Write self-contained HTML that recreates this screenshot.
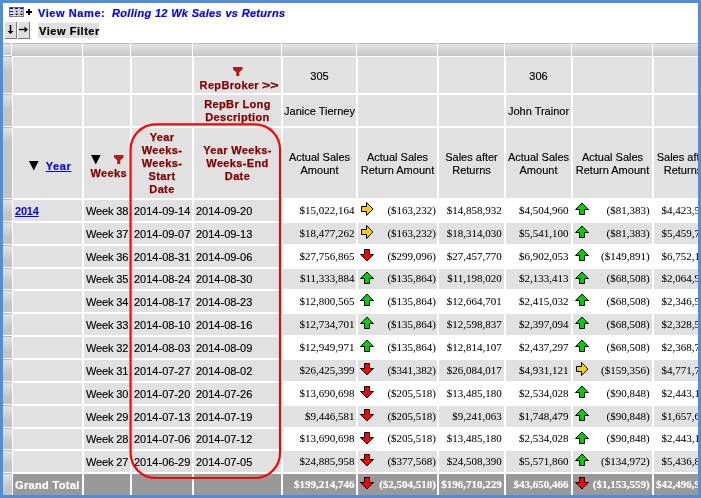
<!DOCTYPE html>
<html><head><meta charset="utf-8"><style>
*{box-sizing:border-box;margin:0;padding:0}
html,body{width:701px;height:498px;overflow:hidden;background:#fff}
body{position:relative;font-family:"Liberation Sans",sans-serif;font-size:11px;color:#000}
#frame{position:absolute;left:0;top:0;width:701px;height:498px;border:3px solid #548dd4;z-index:10;pointer-events:none}
#tbl{position:absolute;left:0;top:0;width:698px;height:495px;overflow:hidden;will-change:transform}
#tbl>div{position:absolute;overflow:hidden}
.hb{background:linear-gradient(#bcbcbc 0,#bcbcbc 1px,#e4e4e4 1px,#c6c6c6 100%)}
.rb{background:linear-gradient(#b8b8b8 0,#b8b8b8 1px,#e2e2e2 1px,#c4c4c4 15px,#c3c3c3 100%)}
.c{background:#e1e1e1;display:flex;align-items:center;line-height:13px;padding-top:2px}
.c.w{background:#fff}
.c.gt{background:#999999}
.c.l{justify-content:flex-start;padding-left:2px}
.c.r{justify-content:flex-end;padding-right:1px}
.c.cc{justify-content:center;text-align:center}
.c.hc{justify-content:center;text-align:center;padding-top:0}
.hl{font-weight:bold;color:#800000;letter-spacing:0.35px;text-align:center;line-height:13px;-webkit-text-stroke:0.25px #800000}
.lnk{color:#0000ff;text-decoration:underline}
.b{font-weight:bold;letter-spacing:0.35px;-webkit-text-stroke:0.2px #0000ff}
.n{font-family:"Liberation Serif",serif;font-size:11px;position:relative;top:-1.5px}
.gb{font-weight:bold;color:#fff}
.gtl{font-weight:bold;color:#fff;letter-spacing:0.35px;-webkit-text-stroke:0.2px #fff}
.ar{position:absolute;left:3px;top:2px}
.abs{position:absolute}
.t{-webkit-text-stroke:0.15px #000}
.n{-webkit-text-stroke:0.04px #000}
.n.gb{-webkit-text-stroke:0.15px #fff}
.tri{display:inline-block;width:0;height:0;border-left:5px solid transparent;border-right:5px solid transparent;border-top:9px solid #000}
.yr{display:flex;align-items:center;padding-left:16px}
.yr .tri{margin-right:7px}
.wk{padding-left:7px}
.wki{display:flex;align-items:flex-start;gap:13px;margin-bottom:4px}
#tb1{position:absolute;left:0;top:0}
.vn{position:absolute;font-weight:bold;color:#0000ff;letter-spacing:0.37px;white-space:nowrap;-webkit-text-stroke:0.2px #0000ff}
.btn{position:absolute;top:22px;width:12px;height:17px;background:#e0e0e0;border-right:1px solid #7a7a7a;border-bottom:1px solid #7a7a7a}
#vf{position:absolute;left:38px;top:23px;width:61px;height:15px;background:#e0e0e0;font-weight:bold;-webkit-text-stroke:0.2px #000;letter-spacing:0.55px;padding-left:1px;padding-top:1px;line-height:15px;white-space:nowrap}
</style></head><body>
<div id="tbl">
<div class="hb" style="left:3px;top:43px;width:8px;height:12px;"></div>
<div class="hb" style="left:12px;top:43px;width:70px;height:13px;"></div>
<div class="hb" style="left:83px;top:43px;width:47px;height:13px;"></div>
<div class="hb" style="left:131px;top:43px;width:61px;height:13px;"></div>
<div class="hb" style="left:193px;top:43px;width:88px;height:13px;"></div>
<div class="hb" style="left:282px;top:43px;width:74px;height:13px;"></div>
<div class="hb" style="left:357px;top:43px;width:80px;height:13px;"></div>
<div class="hb" style="left:438px;top:43px;width:66px;height:13px;"></div>
<div class="hb" style="left:505px;top:43px;width:66px;height:13px;"></div>
<div class="hb" style="left:572px;top:43px;width:80px;height:13px;"></div>
<div class="hb" style="left:653px;top:43px;width:59px;height:13px;"></div>
<div class="rb" style="left:3px;top:56px;width:9px;height:37px;"></div>
<div class="rb" style="left:3px;top:94px;width:9px;height:32px;"></div>
<div class="rb" style="left:3px;top:127px;width:9px;height:71px;"></div>
<div class="rb" style="left:3px;top:199px;width:9px;height:22px;"></div>
<div class="rb" style="left:3px;top:222px;width:9px;height:22px;"></div>
<div class="rb" style="left:3px;top:245px;width:9px;height:22px;"></div>
<div class="rb" style="left:3px;top:268px;width:9px;height:21px;"></div>
<div class="rb" style="left:3px;top:290px;width:9px;height:22px;"></div>
<div class="rb" style="left:3px;top:313px;width:9px;height:22px;"></div>
<div class="rb" style="left:3px;top:336px;width:9px;height:22px;"></div>
<div class="rb" style="left:3px;top:359px;width:9px;height:22px;"></div>
<div class="rb" style="left:3px;top:382px;width:9px;height:22px;"></div>
<div class="rb" style="left:3px;top:405px;width:9px;height:22px;"></div>
<div class="rb" style="left:3px;top:428px;width:9px;height:21px;"></div>
<div class="rb" style="left:3px;top:450px;width:9px;height:22px;"></div>
<div class="rb" style="left:3px;top:473px;width:9px;height:22px;"></div>
<div class="c" style="left:13px;top:57px;width:69px;height:36px;"></div>
<div class="c" style="left:13px;top:95px;width:69px;height:31px;"></div>
<div class="c" style="left:13px;top:128px;width:69px;height:70px;"><svg class="abs" style="left:15.6px;top:33px" width="10" height="10" viewBox="0 0 10 10"><path d="M0 0H9.6L4.8 9.5Z" fill="#000"/></svg><span class="lnk b abs" style="left:32.7px;top:32px;letter-spacing:0.6px">Year</span></div>
<div class="c" style="left:84px;top:57px;width:46px;height:36px;"></div>
<div class="c" style="left:84px;top:95px;width:46px;height:31px;"></div>
<div class="c" style="left:84px;top:128px;width:46px;height:70px;"><svg class="abs" style="left:6.8px;top:26.9px" width="10" height="10" viewBox="0 0 10 10"><path d="M0 0H9.6L4.8 9.5Z" fill="#000"/></svg><svg class="abs" style="left:29.8px;top:27px" width="10" height="9" viewBox="0 0 10 9"><path d="M0 0H9.5V2.6L6.3 5.2V9H3.2V5.2L0 2.6Z" fill="#b01c1c"/></svg><div class="hl abs" style="left:6.5px;top:39px">Weeks</div></div>
<div class="c" style="left:132px;top:57px;width:60px;height:36px;"></div>
<div class="c" style="left:132px;top:95px;width:60px;height:31px;"></div>
<div class="c hc" style="left:132px;top:128px;width:60px;height:70px;"><div class="hl">Year<br>Weeks-<br>Weeks-<br>Start<br>Date</div></div>
<div class="c" style="left:194px;top:57px;width:87px;height:36px;"><svg class="abs" style="left:38.5px;top:10px" width="10" height="9" viewBox="0 0 10 9"><path d="M0 0H9.5V2.6L6.3 5.2V9H3.2V5.2L0 2.6Z" fill="#b01c1c"/></svg><div class="hl abs" style="left:5.6px;top:22px;text-align:left;white-space:nowrap">RepBroker <span style="letter-spacing:0;display:inline-block;transform:scaleX(1.3);transform-origin:0 0">&gt;&gt;</span></div></div>
<div class="c hc" style="left:194px;top:95px;width:87px;height:31px;"><div class="hl">RepBr Long<br>Description</div></div>
<div class="c hc" style="left:194px;top:128px;width:87px;height:70px;"><div class="hl">Year Weeks-<br>Weeks-End<br>Date</div></div>
<div class="c cc" style="left:283px;top:57px;width:73px;height:36px;"><div class="t">305</div></div>
<div class="c cc" style="left:283px;top:95px;width:73px;height:31px;"><div class="t">Janice Tierney</div></div>
<div class="c cc" style="left:283px;top:128px;width:73px;height:70px;"><div class="t">Actual Sales<br>Amount</div></div>
<div class="c" style="left:358px;top:57px;width:79px;height:36px;"></div>
<div class="c" style="left:358px;top:95px;width:79px;height:31px;"></div>
<div class="c cc" style="left:358px;top:128px;width:79px;height:70px;"><div class="t">Actual Sales<br>Return Amount</div></div>
<div class="c" style="left:439px;top:57px;width:65px;height:36px;"></div>
<div class="c" style="left:439px;top:95px;width:65px;height:31px;"></div>
<div class="c cc" style="left:439px;top:128px;width:65px;height:70px;"><div class="t">Sales after<br>Returns</div></div>
<div class="c cc" style="left:506px;top:57px;width:65px;height:36px;"><div class="t">306</div></div>
<div class="c cc" style="left:506px;top:95px;width:65px;height:31px;"><div class="t">John Trainor</div></div>
<div class="c cc" style="left:506px;top:128px;width:65px;height:70px;"><div class="t">Actual Sales<br>Amount</div></div>
<div class="c" style="left:573px;top:57px;width:79px;height:36px;"></div>
<div class="c" style="left:573px;top:95px;width:79px;height:31px;"></div>
<div class="c cc" style="left:573px;top:128px;width:79px;height:70px;"><div class="t">Actual Sales<br>Return Amount</div></div>
<div class="c" style="left:654px;top:57px;width:58px;height:36px;"></div>
<div class="c" style="left:654px;top:95px;width:58px;height:31px;"></div>
<div class="c cc" style="left:654px;top:128px;width:58px;height:70px;"><div class="t">Sales after<br>Returns</div></div>
<div class="c l" style="left:13px;top:200px;width:69px;height:21px;"><span class="lnk" style="font-weight:bold;letter-spacing:-0.2px">2014</span></div>
<div class="c l" style="left:84px;top:200px;width:46px;height:21px;"><span class="t" style="letter-spacing:-0.15px;">Week 38</span></div>
<div class="c l" style="left:132px;top:200px;width:60px;height:21px;"><span class="t" style="">2014-09-14</span></div>
<div class="c l" style="left:194px;top:200px;width:87px;height:21px;"><span class="t" style="">2014-09-20</span></div>
<div class="c w r" style="left:283px;top:200px;width:73px;height:21px;padding-right:1.4px;"><span class="n">$15,022,164</span></div>
<div class="c w r" style="left:358px;top:200px;width:79px;height:21px;padding-right:1.0px;"><svg class="abs" style="left:3px;top:2px" width="14" height="15" viewBox="0 0 14 15"><path d="M0.5 4.5H5.5V0.5L12 7L5.5 13.5V9.5H0.5Z" fill="#ffcc00" stroke="#000" stroke-width="1"/></svg><span class="n">($163,232)</span></div>
<div class="c w r" style="left:439px;top:200px;width:65px;height:21px;padding-right:2.2px;"><span class="n">$14,858,932</span></div>
<div class="c w r" style="left:506px;top:200px;width:65px;height:21px;padding-right:2.5px;"><span class="n">$4,504,960</span></div>
<div class="c w r" style="left:573px;top:200px;width:79px;height:21px;padding-right:2.4px;"><svg class="abs" style="left:2px;top:2px" width="15" height="14" viewBox="0 0 15 14"><path d="M4.5 12.5H9.5V7.5H13.5L7 1L0.5 7.5H4.5Z" fill="#00cc00" stroke="#000" stroke-width="1"/></svg><span class="n">($81,383)</span></div>
<div class="c w r" style="left:654px;top:200px;width:58px;height:21px;padding-right:1.0px;"><span class="n">$4,423,577</span></div>
<div class="c l" style="left:13px;top:223px;width:69px;height:21px;"></div>
<div class="c l" style="left:84px;top:223px;width:46px;height:21px;"><span class="t" style="letter-spacing:-0.15px;">Week 37</span></div>
<div class="c l" style="left:132px;top:223px;width:60px;height:21px;"><span class="t" style="">2014-09-07</span></div>
<div class="c l" style="left:194px;top:223px;width:87px;height:21px;"><span class="t" style="">2014-09-13</span></div>
<div class="c r" style="left:283px;top:223px;width:73px;height:21px;padding-right:1.4px;"><span class="n">$18,477,262</span></div>
<div class="c r" style="left:358px;top:223px;width:79px;height:21px;padding-right:1.0px;"><svg class="abs" style="left:3px;top:2px" width="14" height="15" viewBox="0 0 14 15"><path d="M0.5 4.5H5.5V0.5L12 7L5.5 13.5V9.5H0.5Z" fill="#ffcc00" stroke="#000" stroke-width="1"/></svg><span class="n">($163,232)</span></div>
<div class="c r" style="left:439px;top:223px;width:65px;height:21px;padding-right:2.2px;"><span class="n">$18,314,030</span></div>
<div class="c r" style="left:506px;top:223px;width:65px;height:21px;padding-right:2.5px;"><span class="n">$5,541,100</span></div>
<div class="c r" style="left:573px;top:223px;width:79px;height:21px;padding-right:2.4px;"><svg class="abs" style="left:2px;top:2px" width="15" height="14" viewBox="0 0 15 14"><path d="M4.5 12.5H9.5V7.5H13.5L7 1L0.5 7.5H4.5Z" fill="#00cc00" stroke="#000" stroke-width="1"/></svg><span class="n">($81,383)</span></div>
<div class="c r" style="left:654px;top:223px;width:58px;height:21px;padding-right:1.0px;"><span class="n">$5,459,717</span></div>
<div class="c l" style="left:13px;top:246px;width:69px;height:21px;"></div>
<div class="c l" style="left:84px;top:246px;width:46px;height:21px;"><span class="t" style="letter-spacing:-0.15px;">Week 36</span></div>
<div class="c l" style="left:132px;top:246px;width:60px;height:21px;"><span class="t" style="">2014-08-31</span></div>
<div class="c l" style="left:194px;top:246px;width:87px;height:21px;"><span class="t" style="">2014-09-06</span></div>
<div class="c w r" style="left:283px;top:246px;width:73px;height:21px;padding-right:1.4px;"><span class="n">$27,756,865</span></div>
<div class="c w r" style="left:358px;top:246px;width:79px;height:21px;padding-right:1.0px;"><svg class="abs" style="left:2px;top:3px" width="15" height="14" viewBox="0 0 15 14"><path d="M4.5 0.5H9.5V5.5H13.5L7 12L0.5 5.5H4.5Z" fill="#ff0000" stroke="#000" stroke-width="1"/></svg><span class="n">($299,096)</span></div>
<div class="c w r" style="left:439px;top:246px;width:65px;height:21px;padding-right:2.2px;"><span class="n">$27,457,770</span></div>
<div class="c w r" style="left:506px;top:246px;width:65px;height:21px;padding-right:2.5px;"><span class="n">$6,902,053</span></div>
<div class="c w r" style="left:573px;top:246px;width:79px;height:21px;padding-right:2.4px;"><svg class="abs" style="left:2px;top:2px" width="15" height="14" viewBox="0 0 15 14"><path d="M4.5 12.5H9.5V7.5H13.5L7 1L0.5 7.5H4.5Z" fill="#00cc00" stroke="#000" stroke-width="1"/></svg><span class="n">($149,891)</span></div>
<div class="c w r" style="left:654px;top:246px;width:58px;height:21px;padding-right:1.0px;"><span class="n">$6,752,162</span></div>
<div class="c l" style="left:13px;top:269px;width:69px;height:20px;"></div>
<div class="c l" style="left:84px;top:269px;width:46px;height:20px;"><span class="t" style="letter-spacing:-0.15px;position:relative;top:-1px;">Week 35</span></div>
<div class="c l" style="left:132px;top:269px;width:60px;height:20px;"><span class="t" style="position:relative;top:-1px;">2014-08-24</span></div>
<div class="c l" style="left:194px;top:269px;width:87px;height:20px;"><span class="t" style="position:relative;top:-1px;">2014-08-30</span></div>
<div class="c r" style="left:283px;top:269px;width:73px;height:20px;padding-right:1.4px;"><span class="n">$11,333,884</span></div>
<div class="c r" style="left:358px;top:269px;width:79px;height:20px;padding-right:1.0px;"><svg class="abs" style="left:2px;top:2px" width="15" height="14" viewBox="0 0 15 14"><path d="M4.5 12.5H9.5V7.5H13.5L7 1L0.5 7.5H4.5Z" fill="#00cc00" stroke="#000" stroke-width="1"/></svg><span class="n">($135,864)</span></div>
<div class="c r" style="left:439px;top:269px;width:65px;height:20px;padding-right:2.2px;"><span class="n">$11,198,020</span></div>
<div class="c r" style="left:506px;top:269px;width:65px;height:20px;padding-right:2.5px;"><span class="n">$2,133,413</span></div>
<div class="c r" style="left:573px;top:269px;width:79px;height:20px;padding-right:2.4px;"><svg class="abs" style="left:2px;top:2px" width="15" height="14" viewBox="0 0 15 14"><path d="M4.5 12.5H9.5V7.5H13.5L7 1L0.5 7.5H4.5Z" fill="#00cc00" stroke="#000" stroke-width="1"/></svg><span class="n">($68,508)</span></div>
<div class="c r" style="left:654px;top:269px;width:58px;height:20px;padding-right:1.0px;"><span class="n">$2,064,905</span></div>
<div class="c l" style="left:13px;top:291px;width:69px;height:21px;"></div>
<div class="c l" style="left:84px;top:291px;width:46px;height:21px;"><span class="t" style="letter-spacing:-0.15px;">Week 34</span></div>
<div class="c l" style="left:132px;top:291px;width:60px;height:21px;"><span class="t" style="">2014-08-17</span></div>
<div class="c l" style="left:194px;top:291px;width:87px;height:21px;"><span class="t" style="">2014-08-23</span></div>
<div class="c w r" style="left:283px;top:291px;width:73px;height:21px;padding-right:1.4px;"><span class="n">$12,800,565</span></div>
<div class="c w r" style="left:358px;top:291px;width:79px;height:21px;padding-right:1.0px;"><svg class="abs" style="left:2px;top:2px" width="15" height="14" viewBox="0 0 15 14"><path d="M4.5 12.5H9.5V7.5H13.5L7 1L0.5 7.5H4.5Z" fill="#00cc00" stroke="#000" stroke-width="1"/></svg><span class="n">($135,864)</span></div>
<div class="c w r" style="left:439px;top:291px;width:65px;height:21px;padding-right:2.2px;"><span class="n">$12,664,701</span></div>
<div class="c w r" style="left:506px;top:291px;width:65px;height:21px;padding-right:2.5px;"><span class="n">$2,415,032</span></div>
<div class="c w r" style="left:573px;top:291px;width:79px;height:21px;padding-right:2.4px;"><svg class="abs" style="left:2px;top:2px" width="15" height="14" viewBox="0 0 15 14"><path d="M4.5 12.5H9.5V7.5H13.5L7 1L0.5 7.5H4.5Z" fill="#00cc00" stroke="#000" stroke-width="1"/></svg><span class="n">($68,508)</span></div>
<div class="c w r" style="left:654px;top:291px;width:58px;height:21px;padding-right:1.0px;"><span class="n">$2,346,524</span></div>
<div class="c l" style="left:13px;top:314px;width:69px;height:21px;"></div>
<div class="c l" style="left:84px;top:314px;width:46px;height:21px;"><span class="t" style="letter-spacing:-0.15px;">Week 33</span></div>
<div class="c l" style="left:132px;top:314px;width:60px;height:21px;"><span class="t" style="">2014-08-10</span></div>
<div class="c l" style="left:194px;top:314px;width:87px;height:21px;"><span class="t" style="">2014-08-16</span></div>
<div class="c r" style="left:283px;top:314px;width:73px;height:21px;padding-right:1.4px;"><span class="n">$12,734,701</span></div>
<div class="c r" style="left:358px;top:314px;width:79px;height:21px;padding-right:1.0px;"><svg class="abs" style="left:2px;top:2px" width="15" height="14" viewBox="0 0 15 14"><path d="M4.5 12.5H9.5V7.5H13.5L7 1L0.5 7.5H4.5Z" fill="#00cc00" stroke="#000" stroke-width="1"/></svg><span class="n">($135,864)</span></div>
<div class="c r" style="left:439px;top:314px;width:65px;height:21px;padding-right:2.2px;"><span class="n">$12,598,837</span></div>
<div class="c r" style="left:506px;top:314px;width:65px;height:21px;padding-right:2.5px;"><span class="n">$2,397,094</span></div>
<div class="c r" style="left:573px;top:314px;width:79px;height:21px;padding-right:2.4px;"><svg class="abs" style="left:2px;top:2px" width="15" height="14" viewBox="0 0 15 14"><path d="M4.5 12.5H9.5V7.5H13.5L7 1L0.5 7.5H4.5Z" fill="#00cc00" stroke="#000" stroke-width="1"/></svg><span class="n">($68,508)</span></div>
<div class="c r" style="left:654px;top:314px;width:58px;height:21px;padding-right:1.0px;"><span class="n">$2,328,586</span></div>
<div class="c l" style="left:13px;top:337px;width:69px;height:21px;"></div>
<div class="c l" style="left:84px;top:337px;width:46px;height:21px;"><span class="t" style="letter-spacing:-0.15px;">Week 32</span></div>
<div class="c l" style="left:132px;top:337px;width:60px;height:21px;"><span class="t" style="">2014-08-03</span></div>
<div class="c l" style="left:194px;top:337px;width:87px;height:21px;"><span class="t" style="">2014-08-09</span></div>
<div class="c w r" style="left:283px;top:337px;width:73px;height:21px;padding-right:1.4px;"><span class="n">$12,949,971</span></div>
<div class="c w r" style="left:358px;top:337px;width:79px;height:21px;padding-right:1.0px;"><svg class="abs" style="left:2px;top:2px" width="15" height="14" viewBox="0 0 15 14"><path d="M4.5 12.5H9.5V7.5H13.5L7 1L0.5 7.5H4.5Z" fill="#00cc00" stroke="#000" stroke-width="1"/></svg><span class="n">($135,864)</span></div>
<div class="c w r" style="left:439px;top:337px;width:65px;height:21px;padding-right:2.2px;"><span class="n">$12,814,107</span></div>
<div class="c w r" style="left:506px;top:337px;width:65px;height:21px;padding-right:2.5px;"><span class="n">$2,437,297</span></div>
<div class="c w r" style="left:573px;top:337px;width:79px;height:21px;padding-right:2.4px;"><svg class="abs" style="left:2px;top:2px" width="15" height="14" viewBox="0 0 15 14"><path d="M4.5 12.5H9.5V7.5H13.5L7 1L0.5 7.5H4.5Z" fill="#00cc00" stroke="#000" stroke-width="1"/></svg><span class="n">($68,508)</span></div>
<div class="c w r" style="left:654px;top:337px;width:58px;height:21px;padding-right:1.0px;"><span class="n">$2,368,789</span></div>
<div class="c l" style="left:13px;top:360px;width:69px;height:21px;"></div>
<div class="c l" style="left:84px;top:360px;width:46px;height:21px;"><span class="t" style="letter-spacing:-0.15px;">Week 31</span></div>
<div class="c l" style="left:132px;top:360px;width:60px;height:21px;"><span class="t" style="">2014-07-27</span></div>
<div class="c l" style="left:194px;top:360px;width:87px;height:21px;"><span class="t" style="">2014-08-02</span></div>
<div class="c r" style="left:283px;top:360px;width:73px;height:21px;padding-right:1.4px;"><span class="n">$26,425,399</span></div>
<div class="c r" style="left:358px;top:360px;width:79px;height:21px;padding-right:1.0px;"><svg class="abs" style="left:2px;top:3px" width="15" height="14" viewBox="0 0 15 14"><path d="M4.5 0.5H9.5V5.5H13.5L7 12L0.5 5.5H4.5Z" fill="#ff0000" stroke="#000" stroke-width="1"/></svg><span class="n">($341,382)</span></div>
<div class="c r" style="left:439px;top:360px;width:65px;height:21px;padding-right:2.2px;"><span class="n">$26,084,017</span></div>
<div class="c r" style="left:506px;top:360px;width:65px;height:21px;padding-right:2.5px;"><span class="n">$4,931,121</span></div>
<div class="c r" style="left:573px;top:360px;width:79px;height:21px;padding-right:2.4px;"><svg class="abs" style="left:3px;top:2px" width="14" height="15" viewBox="0 0 14 15"><path d="M0.5 4.5H5.5V0.5L12 7L5.5 13.5V9.5H0.5Z" fill="#ffcc00" stroke="#000" stroke-width="1"/></svg><span class="n">($159,356)</span></div>
<div class="c r" style="left:654px;top:360px;width:58px;height:21px;padding-right:1.0px;"><span class="n">$4,771,765</span></div>
<div class="c l" style="left:13px;top:383px;width:69px;height:21px;"></div>
<div class="c l" style="left:84px;top:383px;width:46px;height:21px;"><span class="t" style="letter-spacing:-0.15px;">Week 30</span></div>
<div class="c l" style="left:132px;top:383px;width:60px;height:21px;"><span class="t" style="">2014-07-20</span></div>
<div class="c l" style="left:194px;top:383px;width:87px;height:21px;"><span class="t" style="">2014-07-26</span></div>
<div class="c w r" style="left:283px;top:383px;width:73px;height:21px;padding-right:1.4px;"><span class="n">$13,690,698</span></div>
<div class="c w r" style="left:358px;top:383px;width:79px;height:21px;padding-right:1.0px;"><svg class="abs" style="left:2px;top:3px" width="15" height="14" viewBox="0 0 15 14"><path d="M4.5 0.5H9.5V5.5H13.5L7 12L0.5 5.5H4.5Z" fill="#ff0000" stroke="#000" stroke-width="1"/></svg><span class="n">($205,518)</span></div>
<div class="c w r" style="left:439px;top:383px;width:65px;height:21px;padding-right:2.2px;"><span class="n">$13,485,180</span></div>
<div class="c w r" style="left:506px;top:383px;width:65px;height:21px;padding-right:2.5px;"><span class="n">$2,534,028</span></div>
<div class="c w r" style="left:573px;top:383px;width:79px;height:21px;padding-right:2.4px;"><svg class="abs" style="left:2px;top:2px" width="15" height="14" viewBox="0 0 15 14"><path d="M4.5 12.5H9.5V7.5H13.5L7 1L0.5 7.5H4.5Z" fill="#00cc00" stroke="#000" stroke-width="1"/></svg><span class="n">($90,848)</span></div>
<div class="c w r" style="left:654px;top:383px;width:58px;height:21px;padding-right:1.0px;"><span class="n">$2,443,180</span></div>
<div class="c l" style="left:13px;top:406px;width:69px;height:21px;"></div>
<div class="c l" style="left:84px;top:406px;width:46px;height:21px;"><span class="t" style="letter-spacing:-0.15px;">Week 29</span></div>
<div class="c l" style="left:132px;top:406px;width:60px;height:21px;"><span class="t" style="">2014-07-13</span></div>
<div class="c l" style="left:194px;top:406px;width:87px;height:21px;"><span class="t" style="">2014-07-19</span></div>
<div class="c r" style="left:283px;top:406px;width:73px;height:21px;padding-right:1.4px;"><span class="n">$9,446,581</span></div>
<div class="c r" style="left:358px;top:406px;width:79px;height:21px;padding-right:1.0px;"><svg class="abs" style="left:2px;top:3px" width="15" height="14" viewBox="0 0 15 14"><path d="M4.5 0.5H9.5V5.5H13.5L7 12L0.5 5.5H4.5Z" fill="#ff0000" stroke="#000" stroke-width="1"/></svg><span class="n">($205,518)</span></div>
<div class="c r" style="left:439px;top:406px;width:65px;height:21px;padding-right:2.2px;"><span class="n">$9,241,063</span></div>
<div class="c r" style="left:506px;top:406px;width:65px;height:21px;padding-right:2.5px;"><span class="n">$1,748,479</span></div>
<div class="c r" style="left:573px;top:406px;width:79px;height:21px;padding-right:2.4px;"><svg class="abs" style="left:2px;top:2px" width="15" height="14" viewBox="0 0 15 14"><path d="M4.5 12.5H9.5V7.5H13.5L7 1L0.5 7.5H4.5Z" fill="#00cc00" stroke="#000" stroke-width="1"/></svg><span class="n">($90,848)</span></div>
<div class="c r" style="left:654px;top:406px;width:58px;height:21px;padding-right:1.0px;"><span class="n">$1,657,631</span></div>
<div class="c l" style="left:13px;top:429px;width:69px;height:20px;"></div>
<div class="c l" style="left:84px;top:429px;width:46px;height:20px;"><span class="t" style="letter-spacing:-0.15px;position:relative;top:-1px;">Week 28</span></div>
<div class="c l" style="left:132px;top:429px;width:60px;height:20px;"><span class="t" style="position:relative;top:-1px;">2014-07-06</span></div>
<div class="c l" style="left:194px;top:429px;width:87px;height:20px;"><span class="t" style="position:relative;top:-1px;">2014-07-12</span></div>
<div class="c w r" style="left:283px;top:429px;width:73px;height:20px;padding-right:1.4px;"><span class="n">$13,690,698</span></div>
<div class="c w r" style="left:358px;top:429px;width:79px;height:20px;padding-right:1.0px;"><svg class="abs" style="left:2px;top:3px" width="15" height="14" viewBox="0 0 15 14"><path d="M4.5 0.5H9.5V5.5H13.5L7 12L0.5 5.5H4.5Z" fill="#ff0000" stroke="#000" stroke-width="1"/></svg><span class="n">($205,518)</span></div>
<div class="c w r" style="left:439px;top:429px;width:65px;height:20px;padding-right:2.2px;"><span class="n">$13,485,180</span></div>
<div class="c w r" style="left:506px;top:429px;width:65px;height:20px;padding-right:2.5px;"><span class="n">$2,534,028</span></div>
<div class="c w r" style="left:573px;top:429px;width:79px;height:20px;padding-right:2.4px;"><svg class="abs" style="left:2px;top:2px" width="15" height="14" viewBox="0 0 15 14"><path d="M4.5 12.5H9.5V7.5H13.5L7 1L0.5 7.5H4.5Z" fill="#00cc00" stroke="#000" stroke-width="1"/></svg><span class="n">($90,848)</span></div>
<div class="c w r" style="left:654px;top:429px;width:58px;height:20px;padding-right:1.0px;"><span class="n">$2,443,180</span></div>
<div class="c l" style="left:13px;top:451px;width:69px;height:21px;"></div>
<div class="c l" style="left:84px;top:451px;width:46px;height:21px;"><span class="t" style="letter-spacing:-0.15px;">Week 27</span></div>
<div class="c l" style="left:132px;top:451px;width:60px;height:21px;"><span class="t" style="">2014-06-29</span></div>
<div class="c l" style="left:194px;top:451px;width:87px;height:21px;"><span class="t" style="">2014-07-05</span></div>
<div class="c r" style="left:283px;top:451px;width:73px;height:21px;padding-right:1.4px;"><span class="n">$24,885,958</span></div>
<div class="c r" style="left:358px;top:451px;width:79px;height:21px;padding-right:1.0px;"><svg class="abs" style="left:2px;top:3px" width="15" height="14" viewBox="0 0 15 14"><path d="M4.5 0.5H9.5V5.5H13.5L7 12L0.5 5.5H4.5Z" fill="#ff0000" stroke="#000" stroke-width="1"/></svg><span class="n">($377,568)</span></div>
<div class="c r" style="left:439px;top:451px;width:65px;height:21px;padding-right:2.2px;"><span class="n">$24,508,390</span></div>
<div class="c r" style="left:506px;top:451px;width:65px;height:21px;padding-right:2.5px;"><span class="n">$5,571,860</span></div>
<div class="c r" style="left:573px;top:451px;width:79px;height:21px;padding-right:2.4px;"><svg class="abs" style="left:2px;top:2px" width="15" height="14" viewBox="0 0 15 14"><path d="M4.5 12.5H9.5V7.5H13.5L7 1L0.5 7.5H4.5Z" fill="#00cc00" stroke="#000" stroke-width="1"/></svg><span class="n">($134,972)</span></div>
<div class="c r" style="left:654px;top:451px;width:58px;height:21px;padding-right:1.0px;"><span class="n">$5,436,888</span></div>
<div class="c gt l" style="left:13px;top:474px;width:69px;height:21px;"><span class="gtl">Grand Total</span></div>
<div class="c gt" style="left:84px;top:474px;width:46px;height:21px;"></div>
<div class="c gt" style="left:132px;top:474px;width:60px;height:21px;"></div>
<div class="c gt" style="left:194px;top:474px;width:87px;height:21px;"></div>
<div class="c gt r" style="left:283px;top:474px;width:73px;height:21px;padding-right:1.4px;"><span class="n gb">$199,214,746</span></div>
<div class="c gt r" style="left:358px;top:474px;width:79px;height:21px;padding-right:1.0px;"><svg class="abs" style="left:2px;top:3px" width="15" height="14" viewBox="0 0 15 14"><path d="M4.5 0.5H9.5V5.5H13.5L7 12L0.5 5.5H4.5Z" fill="#ff0000" stroke="#000" stroke-width="1"/></svg><span class="n gb">($2,504,518)</span></div>
<div class="c gt r" style="left:439px;top:474px;width:65px;height:21px;padding-right:2.2px;"><span class="n gb">$196,710,229</span></div>
<div class="c gt r" style="left:506px;top:474px;width:65px;height:21px;padding-right:2.5px;"><span class="n gb">$43,650,466</span></div>
<div class="c gt r" style="left:573px;top:474px;width:79px;height:21px;padding-right:2.4px;"><svg class="abs" style="left:2px;top:3px" width="15" height="14" viewBox="0 0 15 14"><path d="M4.5 0.5H9.5V5.5H13.5L7 12L0.5 5.5H4.5Z" fill="#ff0000" stroke="#000" stroke-width="1"/></svg><span class="n gb">($1,153,559)</span></div>
<div class="c gt r" style="left:654px;top:474px;width:58px;height:21px;padding-right:1.0px;"><span class="n gb">$42,496,907</span></div>
</div>
<svg style="position:absolute;left:9px;top:7px" width="15" height="10" viewBox="0 0 15 10">
<rect x="0.5" y="0.5" width="14" height="9" fill="#fff" stroke="#777"/>
<rect x="0" y="0" width="15" height="1" fill="#555"/>
<line x1="5" y1="0" x2="5" y2="10" stroke="#aaa"/>
<line x1="10" y1="0" x2="10" y2="10" stroke="#aaa"/>
<rect x="1" y="1" width="3" height="1.2" fill="#0000ff"/>
<rect x="1" y="4" width="3" height="1.2" fill="#0000ff"/>
<rect x="1" y="7" width="3" height="1.2" fill="#0000ff"/>
<rect x="6" y="1" width="3" height="1.2" fill="#0000ff"/>
<rect x="11" y="1" width="3" height="1.2" fill="#0000ff"/>
<rect x="5.5" y="3" width="4" height="2" fill="#ccc"/><rect x="10.5" y="3" width="4" height="2" fill="#ccc"/>
<rect x="5.5" y="6" width="4" height="2" fill="#999"/><rect x="10.5" y="6" width="4" height="2" fill="#999"/>
<rect x="7" y="4" width="1.3" height="1.3" fill="#000"/><rect x="12" y="4" width="1.3" height="1.3" fill="#000"/>
<rect x="7" y="7" width="1.3" height="1.3" fill="#000"/><rect x="12" y="7" width="1.3" height="1.3" fill="#000"/>
</svg>
<svg style="position:absolute;left:26px;top:9px" width="6" height="6" viewBox="0 0 6 6"><path d="M2 0H4V2H6V4H4V6H2V4H0V2H2Z" fill="#000"/></svg>
<div class="vn" style="left:38px;top:7px;letter-spacing:0.58px">View Name:</div>
<div class="vn" style="left:112px;top:7px;font-style:italic;letter-spacing:0.32px">Rolling 12 Wk Sales vs Returns</div>
<div class="btn" style="left:5px"><svg width="11" height="16" viewBox="0 0 11 16"><path d="M5.5 3V10" stroke="#000" stroke-width="1.6"/><path d="M2.5 9H8.5L5.5 12Z" fill="#000"/></svg></div>
<div class="btn" style="left:18px"><svg width="11" height="16" viewBox="0 0 11 16"><path d="M1 7.5H7" stroke="#000" stroke-width="1.4"/><path d="M6.5 4.5V10.5L10 7.5Z" fill="#000"/></svg></div>
<div id="vf">View Filter</div>
<svg style="position:absolute;left:0;top:0;z-index:5" width="701" height="498"><rect x="130.6" y="124.4" width="149.4" height="353.6" rx="25" ry="25" fill="none" stroke="#ff0000" stroke-width="2.2"/></svg>
<div id="frame"></div>
</body></html>
